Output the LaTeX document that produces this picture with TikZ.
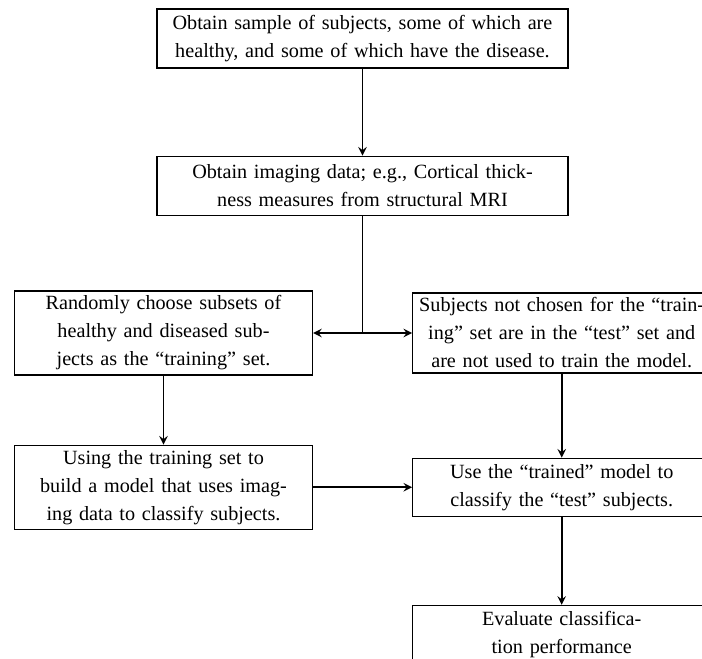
\documentclass[tikz,border=0pt]{standalone}
\usepackage{fontspec}
\setmainfont{Liberation Serif}
\usetikzlibrary{arrows,positioning}
\tikzstyle{stage}=[rectangle,draw=black,line width=0.6pt,inner xsep=3pt,
inner ysep=2pt, align=center]
\tikzstyle{wide}=[text width=199.5pt,minimum height=29.5pt]
\tikzstyle{half}=[text width=143pt]
\begin{document}
\begin{tikzpicture}[>=stealth,x=0.5pt,y=-0.5pt,font=\fontsize{10.1}{14}\selectfont]
    \useasboundingbox (0,0) rectangle (702,659);
    \clip (0,0) rectangle (702,659);

    \node[stage,wide] (sample) at (362.5,38.5)
      {Obtain sample of subjects, some of which are\\
       healthy, and some of which have the disease.};
    \node[stage,wide] (imaging) [below=43.5pt of sample]
      {Obtain imaging data; e.g., Cortical thick-\\
       ness measures from structural MRI};

    \node[stage,half,minimum height=42pt] (train) at (163.5,333)
      {Randomly choose subsets of\\ healthy and diseased sub-\\
       jects as the “training” set.};
    \node[stage,half,minimum height=40pt] (test) [right=49.5pt of train]
      {Subjects not chosen for the “train-\\ ing” set are in the “test” set and\\
       are not used to train the model.};

    \node[stage,half,minimum height=42pt] (build) [below=34.5pt of train]
      {Using the training set to\\ build a model that uses imag-\\
       ing data to classify subjects.};
    \node[stage,half,minimum height=29pt] (classify) [right=49.5pt of build]
      {Use the “trained” model to\\ classify the “test” subjects.};
    \node[stage,half,minimum height=29.5pt] (evaluate) [below=44pt of classify]
      {Evaluate classifica-\\ tion performance};

    \coordinate (split) at (imaging.south |- train.east);

    \draw[->,line width=0.9pt] (sample) -- (imaging);
    \draw[line width=0.9pt] (imaging) -- (split);
    \draw[->,line width=0.9pt] (split) -- (train);
    \draw[->,line width=0.9pt] (split) -- (test);
    \draw[->,line width=0.9pt] (train) -- (build);
    \draw[->,line width=0.9pt] (test) -- (classify);
    \draw[->,line width=0.9pt] (build) -- (classify);
    \draw[->,line width=0.9pt] (classify) -- (evaluate);
\end{tikzpicture}
\end{document}
